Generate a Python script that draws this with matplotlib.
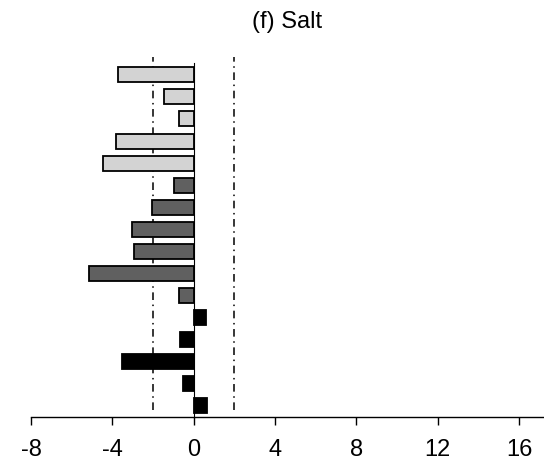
import numpy as np
import matplotlib.pyplot as plt

plt.rcParams['font.family'] = ['Liberation Sans', 'DejaVu Sans']

# bar values, top to bottom
light = [-3.71, -1.48, -0.71, -3.82, -4.48]
dark = [-0.98, -2.04, -3.03, -2.92, -5.15, -0.72]
black = [0.60, -0.69, -3.51, -0.53, 0.67]
xticks = [-8, -4, 0, 4, 8, 12, 16]

values = light + dark + black
colors = ['#d3d3d3'] * len(light) + ['#606060'] * len(dark) + ['black'] * len(black)
n = len(values)
ypos = np.arange(n, 0, -1)

fig = plt.figure(figsize=(5.44, 4.65), dpi=100)
ax = fig.add_axes([0.057, 0.1043, 0.943, 0.7731])

ax.barh(ypos, values, height=0.68, color=colors, edgecolor='black', linewidth=1.3, zorder=3)

# significance lines
ax.vlines([-2, 2], 0.8, 16.8, colors='black', linestyles=(0, (5, 3, 1, 3)), linewidth=1.1, zorder=2)

ax.set_xlim(-8, 17.23)
ax.set_ylim(0.51, 16.81)
ax.set_xticks(xticks)
ax.set_xticklabels([str(t) for t in xticks], fontsize=17)
ax.tick_params(axis='x', direction='out', length=6, width=1, pad=10)
ax.set_yticks([])

ax.spines['top'].set_visible(False)
ax.spines['right'].set_visible(False)
ax.spines['left'].set_position(('data', 0))
ax.spines['left'].set_bounds(0.51, 16.53)
ax.spines['left'].set_linewidth(0.8)
ax.spines['left'].set_zorder(4)
ax.spines['bottom'].set_linewidth(1)
ax.spines['bottom'].set_bounds(-8, 17.23)

ax.set_title('(f) Salt', fontsize=17, pad=21)

fig.savefig('out.png', dpi=100)
